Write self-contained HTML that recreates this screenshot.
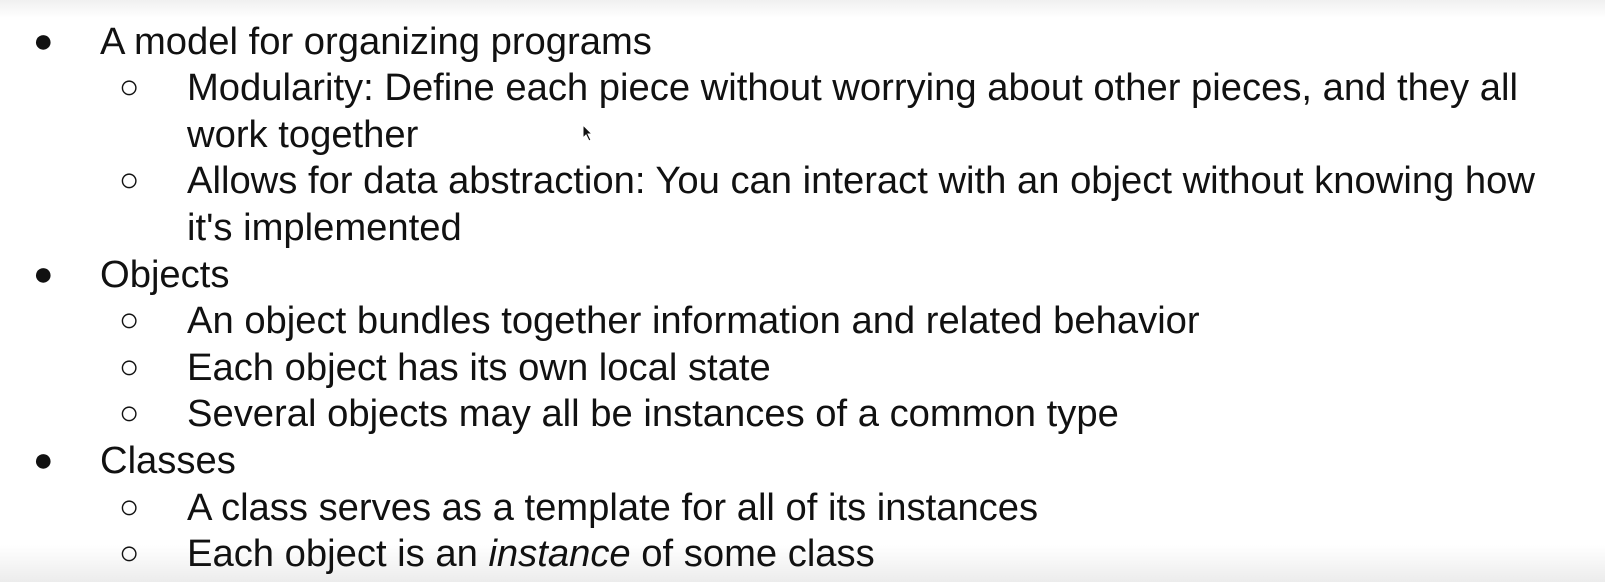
<!DOCTYPE html>
<html><head><meta charset="utf-8"><style>
html,body{margin:0;padding:0}
body{width:1605px;height:582px;overflow:hidden;background:linear-gradient(#f0f0f0 0px,#fff 18px,#fff 545px,#ececec 582px);font-family:"Liberation Sans",Arial,sans-serif;color:#111;font-size:38.2px;position:relative}
.l{position:absolute;line-height:47px;height:47px;white-space:nowrap}
.b{position:absolute;line-height:47px;font-size:34px}
</style></head><body>
<div class="b" style="left:33px;top:18px">●</div><div class="l" style="left:100px;top:18px">A model for organizing programs</div>
<div class="b" style="left:119px;top:64px">○</div><div class="l" style="left:187px;top:64px">Modularity: Define each piece without worrying about other pieces, and they all</div>
<div class="l" style="left:187px;top:111px">work together</div>
<div class="b" style="left:119px;top:157px">○</div><div class="l" style="left:187px;top:157px">Allows for data abstraction: You can interact with an object without knowing how</div>
<div class="l" style="left:187px;top:204px">it's implemented</div>
<div class="b" style="left:33px;top:251px">●</div><div class="l" style="left:100px;top:251px">Objects</div>
<div class="b" style="left:119px;top:297px">○</div><div class="l" style="left:187px;top:297px">An object bundles together information and related behavior</div>
<div class="b" style="left:119px;top:344px">○</div><div class="l" style="left:187px;top:344px">Each object has its own local state</div>
<div class="b" style="left:119px;top:390px">○</div><div class="l" style="left:187px;top:390px">Several objects may all be instances of a common type</div>
<div class="b" style="left:33px;top:437px">●</div><div class="l" style="left:100px;top:437px">Classes</div>
<div class="b" style="left:119px;top:484px">○</div><div class="l" style="left:187px;top:484px">A class serves as a template for all of its instances</div>
<div class="b" style="left:119px;top:530px">○</div><div class="l" style="left:187px;top:530px">Each object is an <i>instance</i> of some class</div>
<svg style="position:absolute;left:582px;top:124px" width="12" height="18"><path d="M1 1 L1 14 L4 11 L7 17 L9 16 L6 10 L10 10 Z" fill="#111" stroke="#fff" stroke-width="1"/></svg>
</body></html>
